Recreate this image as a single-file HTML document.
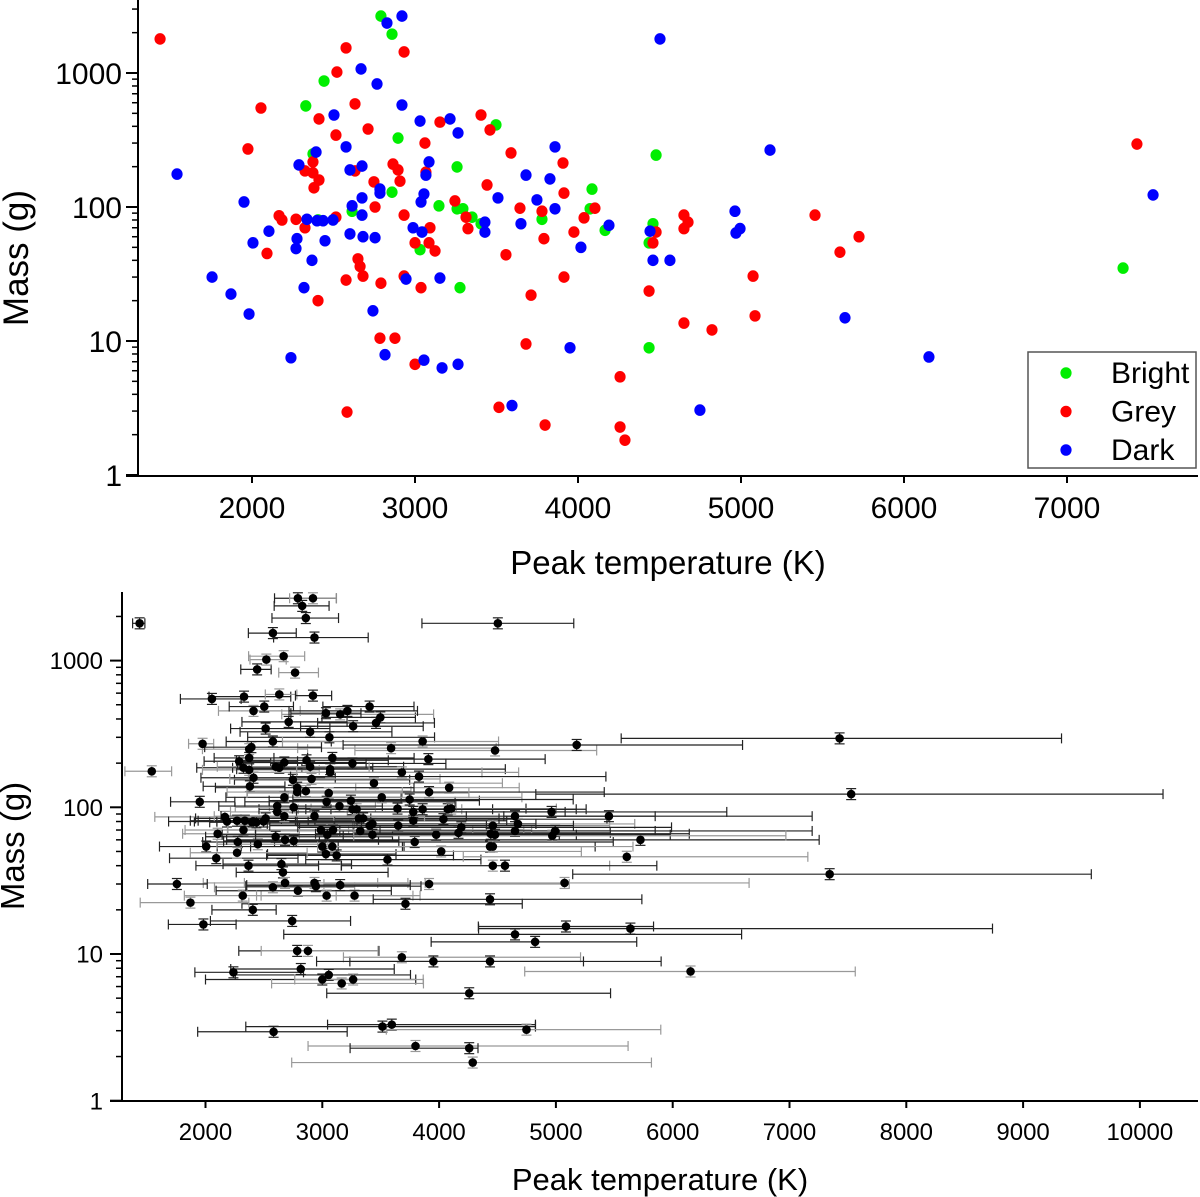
<!DOCTYPE html>
<html>
<head>
<meta charset="utf-8">
<style>
  html,body{margin:0;padding:0;background:#fff;}
  svg{display:block;font-family:"Liberation Sans",Arial,sans-serif;}
</style>
</head>
<body>
<svg id="chart" width="1200" height="1197" viewBox="0 0 1200 1197" xmlns="http://www.w3.org/2000/svg"></svg>
<script>
// ---- data: peak temperature (K), mass (g), group, temperature error minus / plus (K)
const brightTemp = [2330,2374,2442,2405,2614,2791,2859,2859,2896,3031,3147,3258,3258,3294,3350,3405,3276,3497,3779,4086,4074,4166,4460,4436,4436,4479,7344];
const brightMass = [568,249,871,80,93,2660,1950,129,327,48,102,199,97,97,84,75,25,410,81,136,97,67,75,54,8.9,244,35];
const brightErrLo = [300,400,140,500,400,200,290,500,600,500,600,700,800,500,700,600,800,500,900,800,1000,900,1200,1300,1200,1200,2200];
const brightErrHi = [400,500,120,700,600,330,280,900,700,600,1000,800,1200,900,1300,1000,500,300,800,600,1100,1300,1000,900,800,870,2240];

const greyTemp = [1436,1975,2055,2092,2166,2184,2270,2325,2325,2374,2374,2411,2380,2411,2405,2515,2521,2515,2577,2577,2583,2632,2632,2650,2663,2681,2712,2748,2755,2791,2785,2877,2865,2896,2908,2933,2933,2933,3000,3000,3037,3061,3067,3092,3086,3123,3153,3245,3313,3325,3405,3460,3442,3515,3558,3589,3644,3712,3681,3779,3791,3798,3908,3914,3914,3975,4037,4104,4258,4258,4288,4436,4479,4460,4650,4650,4675,4650,4822,5074,5086,5454,5607,5724,7429];
const greyMass = [1795,271,548,45,86,80,81,70,186,217,180,159,139,454,20,84,1016,344,1540,28.5,2.95,186,588,41,36,30.5,382,154,100,27,10.5,10.5,209,189,156,1436,87,30.5,54,6.7,25,300,182,70,54,47,430,111,84,69,486,376,146,3.2,44,253,98,22,9.5,93,58,2.36,213,127,30,65,83,98,5.4,2.28,1.82,23.6,65,54,69,87,77,13.6,12.1,30.5,15.4,87,46,60,295];
const greyErrLo = [60,120,270,400,600,500,400,500,400,300,400,450,400,300,350,600,140,300,210,500,650,400,120,500,400,700,400,500,500,700,500,400,600,500,700,350,800,600,900,1000,600,700,800,900,700,600,500,700,800,900,400,500,700,1170,700,800,900,1400,500,1000,1200,920,800,1100,900,1000,1100,1200,1220,1020,1550,1000,1300,1500,1500,1700,1400,1980,890,1600,750,900,1400,2700,1870];
const greyErrHi = [45,95,250,700,500,600,500,900,500,500,600,700,300,400,200,900,170,550,200,700,630,800,150,600,900,1200,500,1000,700,800,700,600,700,800,1100,460,1300,800,700,800,800,900,1500,1700,600,1000,800,1100,1200,1400,380,500,1100,1310,800,900,1100,1000,1530,1300,1700,1820,1000,1500,1200,1200,1400,900,1210,75,1530,1300,1500,1200,1200,1200,1000,1940,870,1580,750,1740,1550,1530,1900];

const darkTemp = [1540,1951,1755,1871,1982,2006,2104,2239,2276,2270,2288,2337,2319,2393,2368,2399,2436,2497,2448,2503,2577,2601,2601,2614,2669,2675,2675,2675,2681,2755,2767,2742,2785,2785,2816,2828,2920,2920,2945,2988,3037,3043,3055,3055,3031,3067,3086,3153,3166,3215,3264,3264,3429,3429,3509,3595,3650,3681,3748,3859,3859,3828,3951,4018,4190,4442,4460,4564,4503,4748,4963,4994,4969,5178,5638,6153,7528];
const darkMass = [176,109,30,22.4,15.9,54,66,7.5,58,49,206,81,25,257,40,79,79,80,56,486,281,189,63,102,1072,202,117,87,60,59,828,16.8,136,127,7.9,2360,2660,577,29,70,109,65,125,7.2,438,173,217,29.5,6.3,454,357,6.7,77,65,117,3.3,75,173,113,97,281,162,8.9,50,73,66,40,40,1795,3.05,93,69,64,266,14.9,7.6,123];
const darkErrLo = [230,250,250,430,300,400,300,330,300,400,300,400,500,400,450,300,400,400,350,300,400,500,600,500,300,400,500,600,500,600,140,700,700,600,600,240,200,150,600,800,700,900,700,800,300,700,500,800,600,500,450,500,900,1000,800,550,1100,900,1000,1000,1200,1100,1000,1000,1400,1500,1300,1400,650,1200,1200,1500,1700,2000,1300,1420,2700];
const darkErrHi = [170,300,260,500,280,300,700,600,500,600,500,600,800,600,600,700,900,800,600,250,500,800,1000,900,180,700,1000,1200,800,900,200,500,1000,900,800,230,200,160,900,1300,1100,1400,1200,700,300,1300,700,600,700,600,600,600,1400,1600,1200,1230,1500,1000,1400,1400,650,1600,1950,1200,1800,1700,1000,1300,650,1150,1500,2200,2000,1420,3100,1410,2670];

const groupNames = ["Bright","Grey","Dark"];
const groupColors = ["#00ee00","#ff0000","#0000ff"];
const xTicksTop = [2000,3000,4000,5000,6000,7000];
const xTicksBottom = [2000,3000,4000,5000,6000,7000,8000,9000,10000];
const yTickLabels = [1,10,100,1000];

const NS = "http://www.w3.org/2000/svg";
const svg = document.getElementById("chart");
function mk(tag, attrs, parent){
  const e = document.createElementNS(NS, tag);
  for (const k in attrs) e.setAttribute(k, attrs[k]);
  (parent||svg).appendChild(e);
  return e;
}
const L10 = Math.log10;

const topX = T => 252 + (T - 2000) * 0.163;
const topY = M => 341 - (L10(M) - 1) * 134;
const botX = T => 205.5 + (T - 2000) * 0.1168;
const botY = M => 954 - (L10(M) - 1) * 146.7;

const groups = [
  {temp:brightTemp, mass:brightMass, lo:brightErrLo, hi:brightErrHi},
  {temp:greyTemp, mass:greyMass, lo:greyErrLo, hi:greyErrHi},
  {temp:darkTemp, mass:darkMass, lo:darkErrLo, hi:darkErrHi}
];

function drawAxes(g, o){
  const ya = mk("line",{x1:o.x0,y1:o.yTop,x2:o.x0,y2:o.yBot,stroke:"#000","stroke-width":2},g);
  
  
  const xa = mk("line",{x1:o.x0-12,y1:o.yBot,x2:o.x1,y2:o.yBot,stroke:"#000","stroke-width":2},g);
  
  
  for (let d = 0; d <= 3; d++){
    for (let m = 1; m <= 9; m++){
      const v = m * Math.pow(10, d);
      const y = o.y(v);
      if (y < o.yTop - 0.5) continue;
      const len = m === 1 ? 12 : 6;
      mk("line",{x1:o.x0-len,y1:y,x2:o.x0,y2:y,stroke:"#000","stroke-width":m===1?2:1.5},g);
    }
  }
  yTickLabels.forEach(v=>{
    const t = mk("text",{x:o.x0-o.labGap,y:o.y(v)+o.fs*0.36,"text-anchor":"end","font-size":o.fs,fill:"#000"},g);
    t.textContent = String(v);
    
    
  });
  o.xTicks.forEach(v=>{
    const x = o.x(v);
    mk("line",{x1:x,y1:o.yBot,x2:x,y2:o.yBot+7,stroke:"#000","stroke-width":2},g);
    const t = mk("text",{x:x,y:o.yBot+o.xLabDy,"text-anchor":"middle","font-size":o.fs,fill:"#000"},g);
    t.textContent = String(v);
    
    
  });
  const yt = mk("text",{x:0,y:0,"text-anchor":"middle","font-size":o.yTitleFs,fill:"#000",transform:`translate(${o.yTitleX},${o.yTitleY}) rotate(-90)`},g);
  yt.textContent = "Mass (g)";
  
  
  const xt = mk("text",{x:o.xTitleX,y:o.xTitleY,"text-anchor":"middle","font-size":o.titleFs,fill:"#000"},g);
  xt.textContent = "Peak temperature (K)";
  
  
}

// ---------- top panel ----------
const gTop = mk("g",{});


drawAxes(gTop,{prefix:"top",x0:138,x1:1198,yTop:0,yBot:476,x:topX,y:topY,xTicks:xTicksTop,fs:30,labGap:16,xLabDy:42,titleFs:33,yTitleFs:35,yTitleX:28,yTitleY:258,xTitleX:668,xTitleY:574});

groups.forEach((gr, gi)=>{
  const gg = mk("g",{},gTop);
  
  
  gr.temp.forEach((T, i)=>{
    const c = mk("ellipse",{cx:topX(T),cy:topY(gr.mass[i]),rx:5.6,ry:5.8,fill:groupColors[gi]},gg);
    
    
  });
});

const lg = mk("g",{},gTop);


mk("rect",{x:1028,y:352,width:168,height:116,fill:"#fff",stroke:"#555","stroke-width":1.5},lg);
groupNames.forEach((n, i)=>{
  const y = 373 + i * 38.5;
  const e = mk("g",{},lg);
  
  
  mk("ellipse",{cx:1066,cy:y,rx:5.6,ry:5.8,fill:groupColors[i]},e);
  const t = mk("text",{x:1111,y:y+10,"font-size":30,fill:"#000"},e);
  t.textContent = n;
});

// ---------- bottom panel ----------
const gBot = mk("g",{});


drawAxes(gBot,{prefix:"bottom",x0:122,x1:1198,yTop:592,yBot:1101,x:botX,y:botY,xTicks:xTicksBottom,fs:24,labGap:19,xLabDy:39,titleFs:31,yTitleFs:33,yTitleX:24,yTitleY:846,xTitleX:660,xTitleY:1190});

let k = 0;
groups.forEach((gr, gi)=>{
  const gg = mk("g",{},gBot);
  
  
  gr.temp.forEach((T, i)=>{
    const col = (k++ % 3 === 1) ? "#999" : "#222";
    const M = gr.mass[i];
    const x = botX(T), y = botY(M);
    const xl = botX(T - gr.lo[i]), xh = botX(T + gr.hi[i]);
    const eb = mk("g",{stroke:col,"stroke-width":1.2,fill:"none"},gg);
    
    
    mk("line",{x1:xl,y1:y,x2:xh,y2:y},eb);
    mk("line",{x1:xl,y1:y-5,x2:xl,y2:y+5},eb);
    mk("line",{x1:xh,y1:y-5,x2:xh,y2:y+5},eb);
    const yu = botY(M*1.09), yd = botY(M/1.09);
    mk("line",{x1:x,y1:yu,x2:x,y2:yd},eb);
    mk("line",{x1:x-5,y1:yu,x2:x+5,y2:yu},eb);
    mk("line",{x1:x-5,y1:yd,x2:x+5,y2:yd},eb);
  });
});
groups.forEach((gr, gi)=>{
  gr.temp.forEach((T, i)=>{
    const c = mk("circle",{cx:botX(T),cy:botY(gr.mass[i]),r:4.3,fill:"#000"},gBot);
    
    
  });
});
</script>
</body>
</html>
